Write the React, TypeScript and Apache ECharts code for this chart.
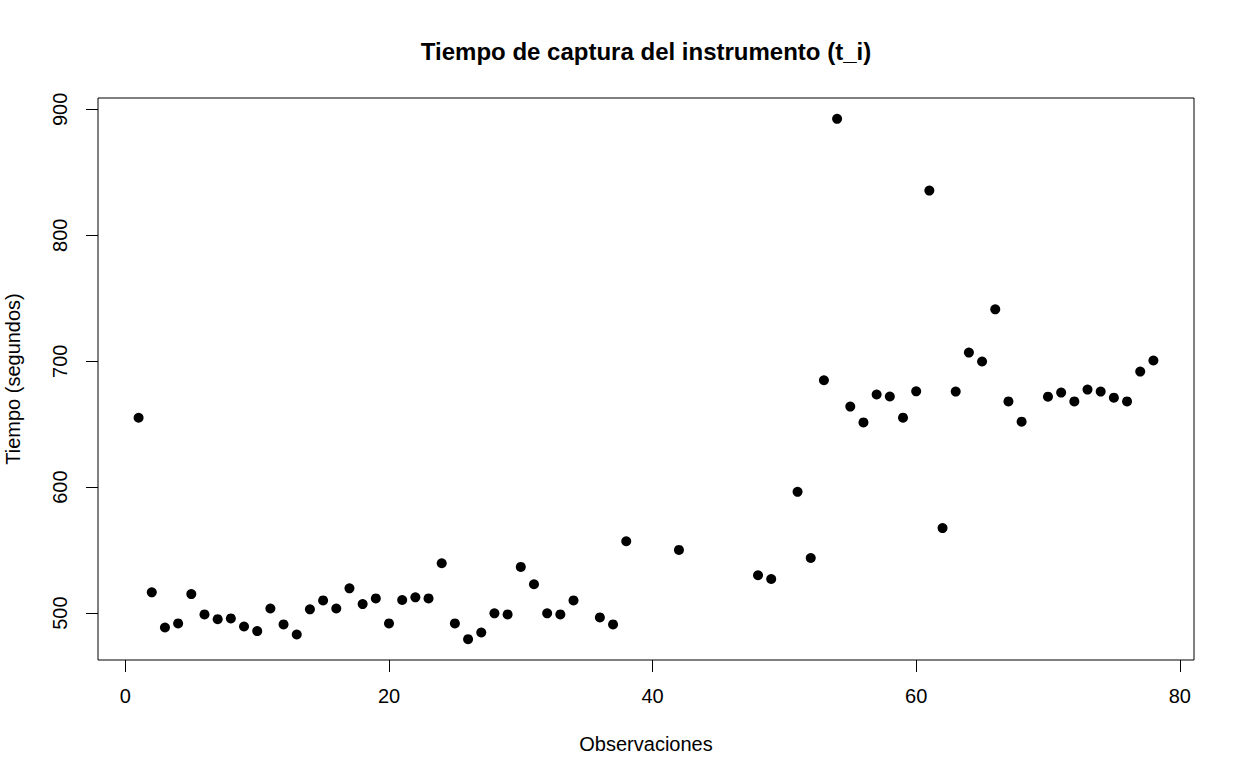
import React, { useEffect, useRef } from "react";
import * as echarts from "echarts";

const chartTitle = "Tiempo de captura del instrumento (t_i)";
const xAxisTitle = "Observaciones";
const yAxisTitle = "Tiempo (segundos)";
const xTicks = [0, 20, 40, 60, 80];
const yTicks = [500, 600, 700, 800, 900];

const observations = [
  1, 2, 3, 4, 5, 6, 7, 8, 9, 10, 11, 12, 13, 14, 15, 16, 17, 18, 19, 20,
  21, 22, 23, 24, 25, 26, 27, 28, 29, 30, 31, 32, 33, 34, 36, 37, 38, 42,
  48, 49, 51, 52, 53, 54, 55, 56, 57, 58, 59, 60, 61, 62, 63, 64, 65, 66,
  67, 68, 70, 71, 72, 73, 74, 75, 76, 77, 78,
];
const times = [
  655.1, 516.5, 488.6, 491.8, 515.1, 499.0, 495.2, 495.8, 489.4, 485.7,
  503.7, 491.0, 483.0, 503.0, 510.1, 503.7, 519.7, 507.2, 511.7, 491.8,
  510.4, 512.5, 511.7, 539.6, 491.8, 479.3, 484.6, 499.8, 499.0, 536.7,
  522.9, 499.8, 499.0, 510.1, 496.6, 491.0, 557.1, 550.2,
  530.1, 527.1, 596.3, 543.8, 684.9, 892.5, 664.0, 651.4, 673.6, 672.0,
  655.2, 676.1, 835.5, 567.5, 675.9, 706.9, 699.8, 741.2, 668.1, 652.0,
  671.9, 675.1, 668.1, 677.5, 675.9, 671.1, 668.1, 691.8, 700.6,
];

const FONT = "'Liberation Sans', Arial, sans-serif";

function padRange(vals: number[]) {
  const lo = Math.min(...vals);
  const hi = Math.max(...vals);
  const d = (hi - lo) * 0.04;
  return [lo - d, hi + d];
}

export default function App() {
  const ref = useRef<HTMLDivElement>(null);
  useEffect(() => {
    if (!ref.current) return;
    const chart = echarts.init(ref.current, null, { renderer: "svg" });
    const [xmin, xmax] = padRange(observations);
    const [ymin, ymax] = padRange(times);
    chart.setOption({
      animation: false,
      backgroundColor: "#ffffff",
      title: {
        text: chartTitle,
        left: 641,
        top: 34,
        textAlign: "center",
        textStyle: { fontFamily: FONT, fontSize: 24, fontWeight: "bold", color: "#000" },
      },
      grid: {
        left: 98,
        top: 98,
        right: 51,
        bottom: 122,
        containLabel: false,
        outerBoundsMode: "none",
        show: true,
        borderColor: "#000",
        borderWidth: 1,
        backgroundColor: "transparent",
      },
      xAxis: {
        type: "value",
        min: xmin,
        max: xmax,
        name: xAxisTitle,
        nameLocation: "middle",
        nameGap: 74,
        nameTextStyle: { fontFamily: FONT, fontSize: 20, color: "#000" },
        axisLine: { show: false, onZero: false },
        splitLine: { show: false },
        axisTick: {
          show: true,
          inside: false,
          length: 12,
          customValues: xTicks,
          lineStyle: { color: "#000", width: 1 },
        },
        axisLabel: {
          show: true,
          customValues: xTicks,
          margin: 26,
          fontFamily: FONT,
          fontSize: 20,
          color: "#000",
        },
      },
      yAxis: {
        type: "value",
        min: ymin,
        max: ymax,
        name: yAxisTitle,
        nameLocation: "middle",
        nameRotate: 90,
        nameGap: 75,
        nameTextStyle: { fontFamily: FONT, fontSize: 20, color: "#000" },
        axisLine: { show: false, onZero: false },
        splitLine: { show: false },
        axisTick: {
          show: true,
          inside: false,
          length: 12,
          customValues: yTicks,
          lineStyle: { color: "#000", width: 1 },
        },
        axisLabel: {
          show: true,
          customValues: yTicks,
          rotate: 90,
          margin: 28,
          fontFamily: FONT,
          fontSize: 20,
          color: "#000",
        },
      },
      series: [
        {
          type: "scatter",
          symbol: "circle",
          symbolSize: 10,
          itemStyle: { color: "#000", opacity: 1 },
          data: observations.map((o, i) => [o, times[i]]),
        },
      ],
    });
    return () => chart.dispose();
  }, []);
  return (
    <div
      ref={ref}
      style={{ position: "absolute", left: 0, top: 0, width: 1245, height: 782, background: "#fff" }}
    />
  );
}
